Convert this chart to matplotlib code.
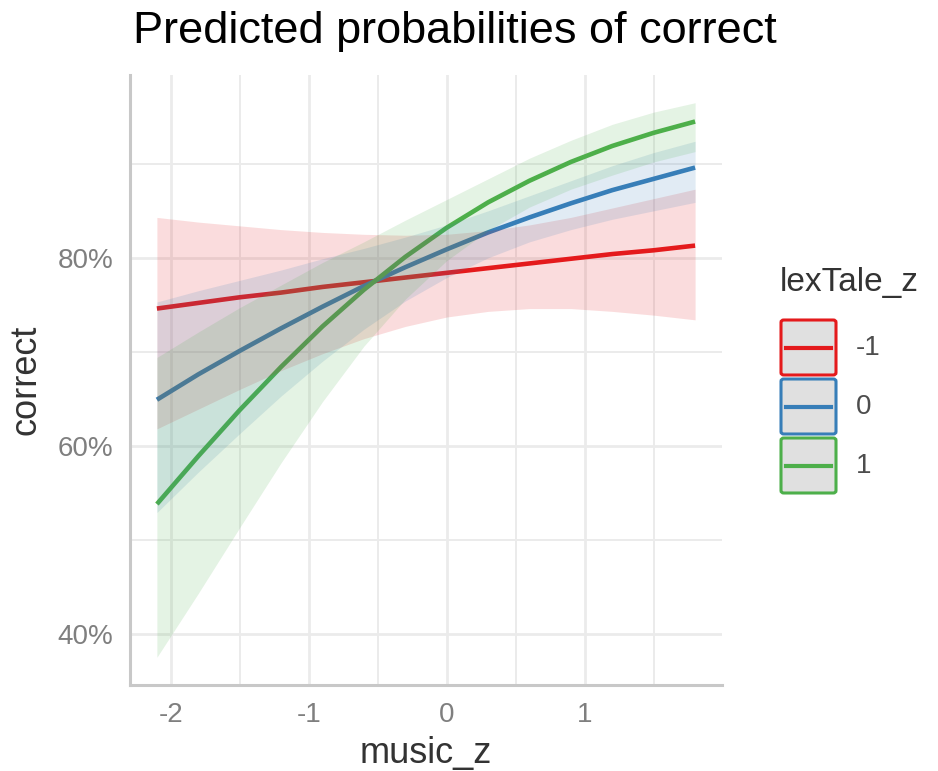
import matplotlib
matplotlib.use("Agg")
import matplotlib.pyplot as plt
from matplotlib.patches import FancyBboxPatch
from matplotlib.lines import Line2D
from matplotlib.ticker import FixedLocator, FuncFormatter

plt.rcParams['font.family'] = ['Liberation Sans', 'DejaVu Sans']

# predicted probabilities (%) with 95% bands, by lexTale_z level
music_z = [-2.1, -1.8, -1.5, -1.2, -0.9, -0.6, -0.3, 0.0, 0.3, 0.6, 0.9, 1.2, 1.5, 1.8]

red_fit = [74.6, 75.2, 75.8, 76.3, 76.9, 77.4, 77.9, 78.4, 78.9, 79.4, 79.9, 80.4, 80.8, 81.3]
red_lo = [61.8, 63.9, 66.0, 68.0, 69.8, 71.4, 72.7, 73.7, 74.3, 74.6, 74.6, 74.3, 73.9, 73.4]
red_hi = [84.3, 83.8, 83.4, 83.0, 82.7, 82.5, 82.4, 82.5, 82.9, 83.5, 84.3, 85.3, 86.3, 87.3]

blue_fit = [64.9, 67.6, 70.1, 72.5, 74.8, 77.0, 79.0, 80.9, 82.7, 84.3, 85.8, 87.2, 88.4, 89.6]
blue_lo = [52.9, 57.2, 61.3, 65.3, 69.0, 72.4, 75.4, 77.9, 80.0, 81.7, 83.0, 84.1, 85.0, 85.9]
blue_hi = [75.3, 76.5, 77.6, 78.7, 79.9, 81.0, 82.2, 83.5, 85.0, 86.6, 88.2, 89.8, 91.2, 92.4]

green_fit = [53.8, 58.9, 63.8, 68.4, 72.7, 76.6, 80.1, 83.2, 85.9, 88.2, 90.2, 91.9, 93.3, 94.5]
green_lo = [37.5, 44.3, 51.3, 58.2, 64.7, 70.6, 75.6, 79.7, 82.9, 85.4, 87.3, 88.8, 90.2, 91.3]
green_hi = [69.4, 72.1, 74.7, 77.1, 79.5, 81.7, 84.0, 86.2, 88.4, 90.6, 92.5, 94.2, 95.5, 96.5]

levels = ['-1', '0', '1']
colors = ['#E41A1C', '#377EB8', '#4DAF4A']
fits = [red_fit, blue_fit, green_fit]
lows = [red_lo, blue_lo, green_lo]
highs = [red_hi, blue_hi, green_hi]

W, H = 938, 771
fig = plt.figure(figsize=(W / 100, H / 100), dpi=100)
ax = fig.add_axes([130 / W, 1 - 685 / H, (722 - 130) / W, (685 - 75) / H])

for fit, col in zip(fits, colors):
    ax.plot(music_z, fit, color=col, lw=3.3, solid_capstyle='butt',
            solid_joinstyle='round', zorder=2)
for lo, hi, col in zip(lows, highs, colors):
    ax.fill_between(music_z, lo, hi, color=col, alpha=0.15, lw=0, zorder=3)

ax.margins(0.05)

# grid
ax.xaxis.set_major_locator(FixedLocator([-2, -1, 0, 1]))
ax.xaxis.set_minor_locator(FixedLocator([-1.5, -0.5, 0.5, 1.5]))
ax.yaxis.set_major_locator(FixedLocator([40, 60, 80]))
ax.yaxis.set_minor_locator(FixedLocator([50, 70, 90]))
ax.yaxis.set_major_formatter(FuncFormatter(lambda v, p: f'{v:.0f}%'))
ax.xaxis.set_major_formatter(FuncFormatter(lambda v, p: f'{v:.0f}'))
ax.grid(True, which='major', color='#EBEBEB', lw=2.0, zorder=0)
ax.grid(True, which='minor', color='#EBEBEB', lw=1.4, zorder=0)
ax.set_axisbelow(True)

for s in ['top', 'right']:
    ax.spines[s].set_visible(False)
for s in ['left', 'bottom']:
    ax.spines[s].set_color('#C8C8C8')
    ax.spines[s].set_linewidth(2.2)

ax.tick_params(which='both', length=0)
ax.tick_params(axis='both', labelsize=20, labelcolor='#7F7F7F')
ax.tick_params(axis='x', pad=12)
ax.tick_params(axis='y', pad=12)

ax.set_xlabel('music_z', fontsize=26, color='#333333', labelpad=6)
ax.set_ylabel('correct', fontsize=26, color='#333333', labelpad=10)

fig.text(133 / W, 1 - 32 / H, 'Predicted probabilities of correct',
         fontsize=32.5, color='black', ha='left', va='center')

# legend
def fx(px):
    return px / W


def fy(py):
    return 1 - py / H


fig.text(fx(780), fy(282), 'lexTale_z', fontsize=24, color='#333333',
         ha='left', va='center')
key_tops = [320, 379, 438]
for top, lab, col in zip(key_tops, levels, colors):
    box = FancyBboxPatch((fx(781), fy(top + 55)), fx(55), 55 / H,
                         boxstyle='round,pad=0,rounding_size=0.003',
                         transform=fig.transFigure, facecolor='#E0E0E0',
                         edgecolor=col, lw=2.2)
    fig.add_artist(box)
    fig.add_artist(Line2D([fx(786), fx(831)], [fy(top + 28)] * 2,
                          transform=fig.transFigure, color=col, lw=3.0))
    fig.text(fx(856), fy(top + 28), lab, fontsize=20, color='#4D4D4D',
             ha='left', va='center')

fig.savefig('out.png', dpi=100)
